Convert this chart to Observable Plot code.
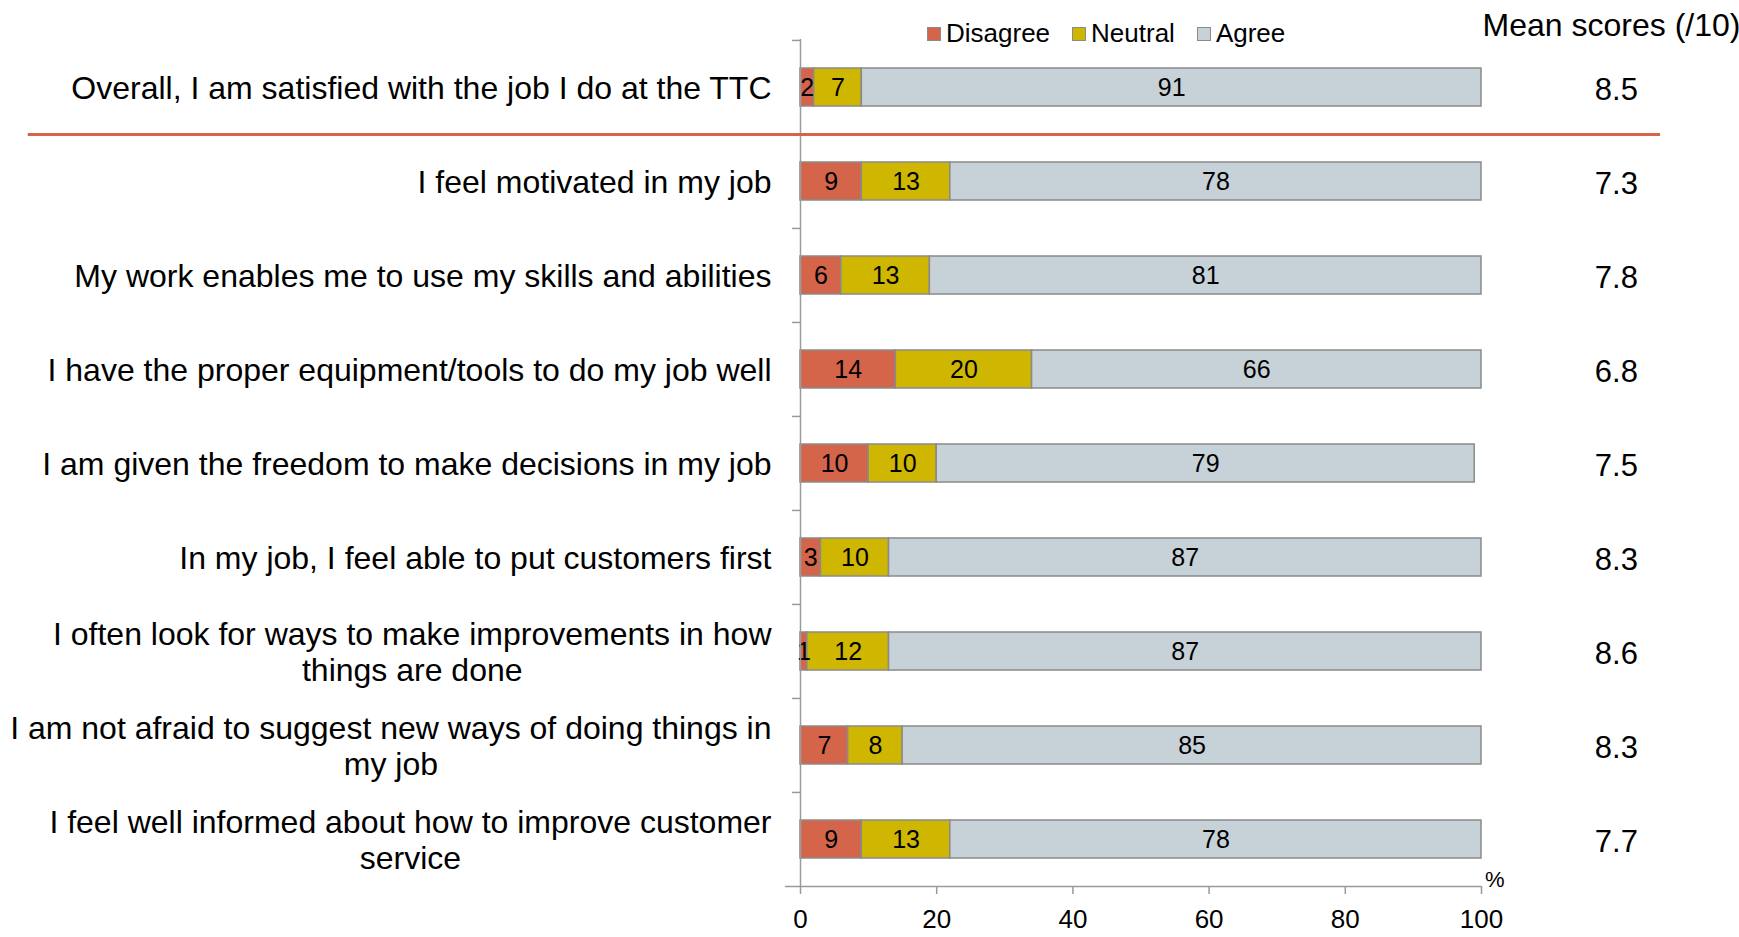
<!DOCTYPE html>
<html>
<head>
<meta charset="utf-8">
<script src="https://cdn.jsdelivr.net/npm/d3@7"></script>
<script src="https://cdn.jsdelivr.net/npm/@observablehq/plot@0.6"></script>
<style>
  html, body { margin: 0; padding: 0; background: white; }
  #wrap { position: relative; width: 1739px; height: 937px; font-family: "Liberation Sans", Arial, sans-serif; }
  #legend { position: absolute; left: 927px; top: 18px; display: flex; align-items: center; font-size: 26px; color: #000; }
  #legend .item { display: flex; align-items: center; margin-right: 22px; }
  #legend .sw { width: 12px; height: 12px; border: 1.5px solid #8a8a8a; margin-right: 5px; }
</style>
</head>
<body>
<div id="wrap"><div id="legend"></div></div>
<script>
const questions = [
  "Overall, I am satisfied with the job I do at the TTC",
  "I feel motivated in my job",
  "My work enables me to use my skills and abilities",
  "I have the proper equipment/tools to do my job well",
  "I am given the freedom to make decisions in my job",
  "In my job, I feel able to put customers first",
  "I often look for ways to make improvements in how\nthings are done",
  "I am not afraid to suggest new ways of doing things in\nmy job",
  "I feel well informed about how to improve customer\nservice"
];
const categories = ["Disagree", "Neutral", "Agree"];
const disagree = [2, 9, 6, 14, 10, 3, 1, 7, 9];
const neutral  = [7, 13, 13, 20, 10, 10, 12, 8, 13];
const agree    = [91, 78, 81, 66, 79, 87, 87, 85, 78];
const means    = [8.5, 7.3, 7.8, 6.8, 7.5, 8.3, 8.6, 8.3, 7.7];
const xTicks   = [0, 20, 40, 60, 80, 100];
const colors   = ["#d4654b", "#cfb600", "#c7d1d8"];

const rows = [];
questions.forEach((q, i) => {
  [disagree, neutral, agree].forEach((arr, k) => rows.push({q, cat: categories[k], value: arr[i]}));
});
const meanRows = questions.map((q, i) => ({q, mean: means[i]}));

const W = 1739, H = 937, mT = 39, mB = 51, mL = 800, mR = 258;
const step = (H - mT - mB) / questions.length;

const chart = Plot.plot({
  width: W, height: H,
  marginTop: mT, marginBottom: mB, marginLeft: mL, marginRight: mR,
  style: {fontFamily: "Liberation Sans, Arial, sans-serif", fontSize: "25px", color: "#000", background: "white", overflow: "visible"},
  x: {domain: [0, 100], axis: null},
  y: {domain: questions, axis: null, paddingInner: 0.6, paddingOuter: 0.3},
  color: {domain: categories, range: colors},
  marks: [
    Plot.barX(rows, Plot.stackX({x: "value", y: "q", fill: "cat", stroke: "#8a8a8a", strokeWidth: 1.5})),
    Plot.textX(rows, Plot.stackX({x: "value", y: "q", z: "cat", text: d => String(d.value), fontSize: 25, fill: "#000"})),
    Plot.ruleX([0], {stroke: "#9a9a9a", strokeWidth: 1.5}),
    Plot.axisY({tickSize: 8, tickFormat: () => "", dy: -step / 2, stroke: "#9a9a9a", strokeWidth: 1.5, label: null}),
    Plot.ruleY([questions[questions.length - 1]], {dy: step / 2, x1: -2.2, x2: 100, stroke: "#9a9a9a", strokeWidth: 1.5}),
    Plot.axisX({ticks: xTicks, tickSize: 8, tickPadding: 15, fontSize: 26, stroke: "#9a9a9a", strokeWidth: 1.5, fill: "#000", label: null}),
    Plot.text(["%"], {frameAnchor: "bottom-right", dx: 23, dy: 0, fontSize: 22, fill: "#000"}),
    Plot.ruleY([questions[1]], {dy: -step / 2, x1: -113.4, x2: 126.3, stroke: "#d4654b", strokeWidth: 3}),
    Plot.text(questions, {y: d => d, text: d => d, frameAnchor: "left", textAnchor: "end", dx: -29, fontSize: 32, lineHeight: 1.12, fill: "#000", className: "qlabel"}),
    Plot.text(meanRows, {y: "q", x: 119.8, dy: 3, text: d => d.mean.toFixed(1), fontSize: 31, fill: "#000"}),
    Plot.text(["Mean scores (/10)"], {frameAnchor: "top-right", textAnchor: "middle", dx: 130, dy: -26, fontSize: 32, fill: "#000"})
  ]
});

const wrap = document.getElementById("wrap");
wrap.insertBefore(chart, wrap.firstChild);

// legend
const legend = document.getElementById("legend");
categories.forEach((c, i) => {
  const item = document.createElement("div");
  item.className = "item";
  const sw = document.createElement("div");
  sw.className = "sw";
  sw.style.background = colors[i];
  const t = document.createElement("span");
  t.textContent = c;
  item.appendChild(sw); item.appendChild(t);
  legend.appendChild(item);
});

// center multi-line question labels within their block (right-aligned block)
chart.querySelectorAll(".qlabel text").forEach(text => {
  const spans = text.querySelectorAll("tspan");
  if (spans.length > 1) {
    let maxW = 0;
    spans.forEach(s => { maxW = Math.max(maxW, s.getComputedTextLength()); });
    text.setAttribute("text-anchor", "middle");
    spans.forEach(s => s.setAttribute("x", -maxW / 2));
  }
});
</script>
</body>
</html>
